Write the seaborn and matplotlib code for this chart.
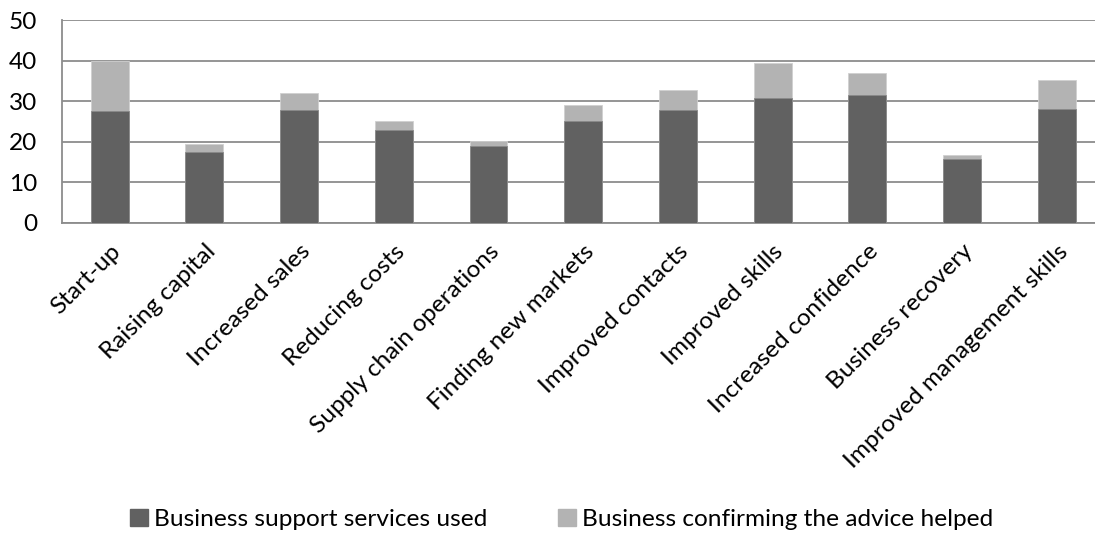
import matplotlib
matplotlib.use("Agg")
import matplotlib.pyplot as plt
import seaborn as sns
import pandas as pd
import numpy as np
from matplotlib.patches import Patch

categories = ["Start-up", "Raising capital", "Increased sales", "Reducing costs",
              "Supply chain operations", "Finding new markets", "Improved contacts",
              "Improved skills", "Increased confidence", "Business recovery",
              "Improved management skills"]
support_used = [27.6, 17.5, 27.9, 22.9, 18.8, 25.2, 27.9, 30.8, 31.4, 15.6, 28.1]
advice_helped = [12.3, 1.8, 4.0, 2.3, 1.3, 3.8, 4.9, 8.5, 5.5, 1.1, 7.1]
yticks = [0, 10, 20, 30, 40, 50]
series_names = ["Business support services used", "Business confirming the advice helped"]

dark = "#616161"
light = "#b3b3b3"
grid_c = "#8c8c8c"

sns.set_style("white")
plt.rcParams["font.family"] = ["Lato", "DejaVu Sans"]
plt.rcParams["text.color"] = "black"

df = pd.DataFrame({"cat": categories, "used": support_used,
                   "total": np.array(support_used) + np.array(advice_helped)})

fig = plt.figure(figsize=(10.95, 5.34), dpi=100)

# fit font size so the first legend entry text is about 332 px wide
renderer = fig.canvas.get_renderer()
probe = fig.text(0, 0, series_names[0], fontsize=10)
w10 = probe.get_window_extent(renderer).width
probe.remove()
fs = 10 * 332 / w10

ax = fig.add_axes([0.0569, 0.583, 1.0084 - 0.0569, 0.9625 - 0.583])

sns.barplot(data=df, x="cat", y="total", color=light, width=0.4, saturation=1,
            edgecolor="#d0d0d0", linewidth=0.6, ax=ax, zorder=3)
sns.barplot(data=df, x="cat", y="used", color=dark, width=0.4, saturation=1,
            edgecolor="#8a8a8a", linewidth=0.6, ax=ax, zorder=4)

ax.set_xlim(-0.5, len(categories) - 0.5)
ax.set_ylim(0, 50)
ax.set_yticks(yticks)
ax.set_yticklabels([str(v) for v in yticks], fontsize=fs)
ax.yaxis.grid(True, color=grid_c, linewidth=1.3, zorder=0)
ax.set_axisbelow(True)
for s in ["top", "right"]:
    ax.spines[s].set_visible(False)
for s in ["left", "bottom"]:
    ax.spines[s].set_color(grid_c)
    ax.spines[s].set_linewidth(1.3)
ax.tick_params(axis="y", direction="out", length=6, width=1.3, color=grid_c, pad=12,
               labelcolor="black")

ax.set_xticks(range(len(categories)))
ax.set_xticklabels(categories, rotation=45, ha="right", rotation_mode="anchor", fontsize=fs)
ax.tick_params(axis="x", which="major", length=0, pad=13, labelcolor="black")
ax.set_xticks(np.arange(-0.5, len(categories), 1), minor=True)
ax.tick_params(axis="x", which="minor", direction="out", length=5, width=1.3, color=grid_c)
ax.set_xlabel("")
ax.set_ylabel("")

handles = [Patch(facecolor=dark, edgecolor=dark), Patch(facecolor=light, edgecolor=light)]
fig.legend(handles, series_names, loc="center", bbox_to_anchor=(0.513, 0.028), ncol=2,
           frameon=False, fontsize=fs, handlelength=0.75, handleheight=0.7,
           handletextpad=0.25, columnspacing=2.9, borderaxespad=0, borderpad=0,
           labelcolor="black")

fig.savefig("out.png", dpi=100)
